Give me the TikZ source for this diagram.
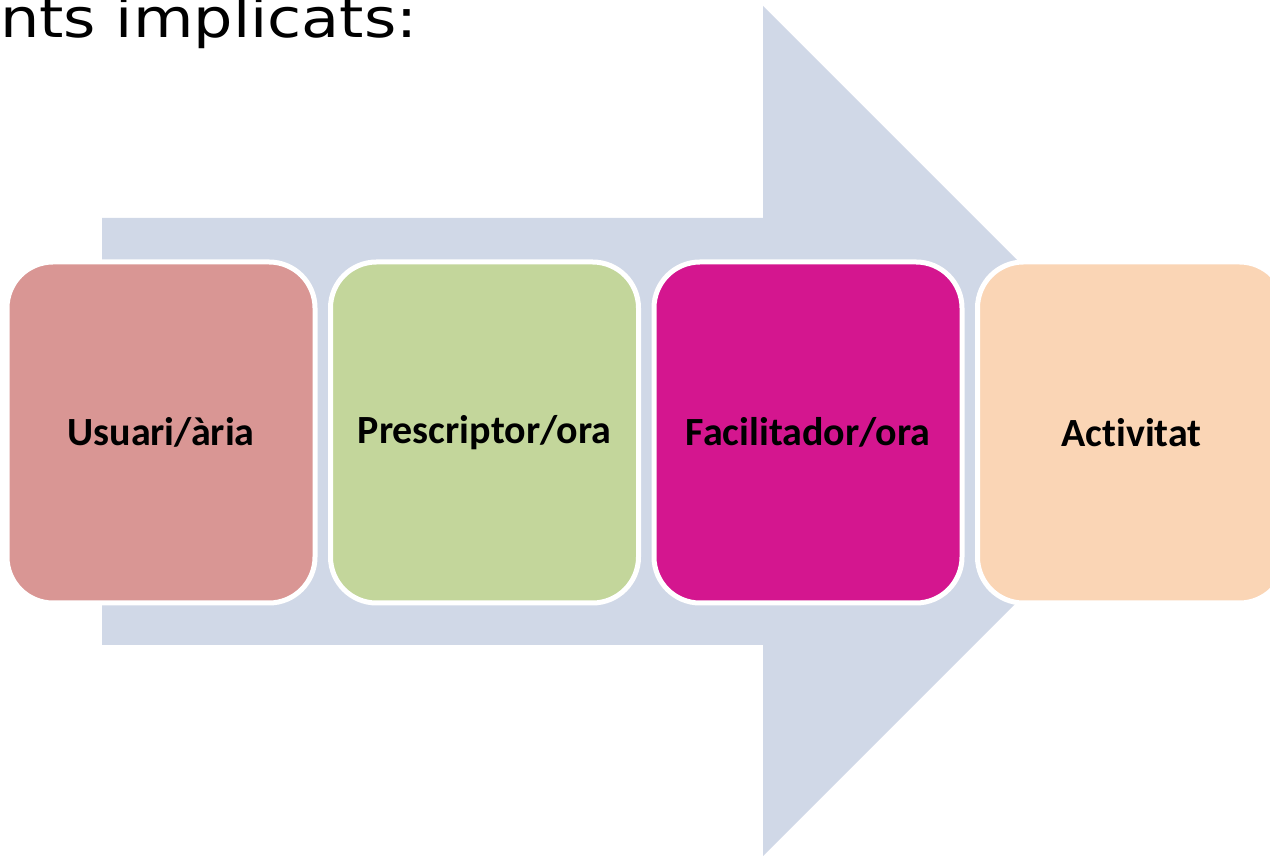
\documentclass[tikz,border=0pt]{standalone}
\usepackage{fontspec}
\setmainfont{Carlito}[Ligatures=NoCommon]
\newfontfamily\titlefont{DejaVu Sans}
\usepackage{xcolor}
\usetikzlibrary{positioning}
\definecolor{arrowblue}{RGB}{208,216,231}
\definecolor{userred}{RGB}{217,150,148}
\definecolor{prescgreen}{RGB}{195,214,155}
\definecolor{facilmag}{RGB}{212,22,143}
\definecolor{actpeach}{RGB}{250,213,181}
\tikzset{
    agent/.style={
        rectangle,
        rounded corners=46pt,
        draw=white,
        line width=5pt,
        minimum width=308pt,
        minimum height=341pt,
        font=\fontsize{40}{46}\selectfont\bfseries,
        text=black,
    },
}
\begin{document}
\begin{tikzpicture}[x=1pt,y=1pt,node distance=10.5pt]
      \clip (0,0) rectangle (1270,856);
      % big arrow behind the agents
      \fill[arrowblue] (102,211) -- (102,638) -- (763,638) -- (763,850)
          -- (1188,425) -- (763,0) -- (763,211) -- cycle;

      \node [agent, fill=userred] (usuari) at (161,423.5) {Usuari/ària};
      \node [agent, fill=prescgreen] (prescriptor) [right=of usuari] {Prescriptor/ora};
      \node [agent, fill=facilmag] (facilitador) [right=of prescriptor] {Facilitador/ora};
      \node [agent, fill=actpeach] (activitat) [right=of facilitador] {Activitat};

      \node [anchor=base west, inner sep=0pt, font=\titlefont\fontsize{54}{60}\selectfont] (title)
          at (0,818) {\scalebox{1.15}[1]{nts implicats:}};
    \end{tikzpicture}
\end{document}
